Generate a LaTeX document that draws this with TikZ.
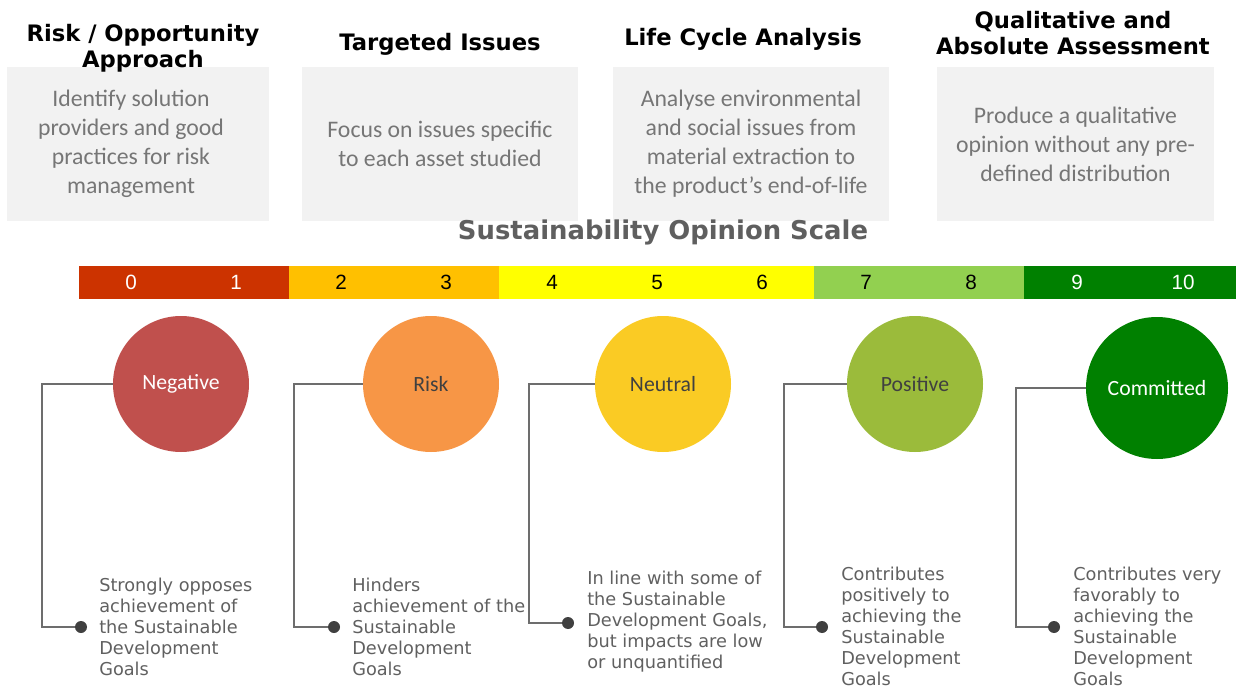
\documentclass[tikz,border=0pt]{standalone}
\usepackage{fontspec}
\usepackage{tikz}
\setmainfont{Carlito}
\newfontfamily\headfont{DejaVu Sans}
\newfontfamily\numfont{Liberation Sans}

\definecolor{boxgray}{HTML}{F2F2F2}
\definecolor{boxtxt}{HTML}{767676}
\definecolor{titlegray}{HTML}{5F5F5F}
\definecolor{scRed}{HTML}{CC3300}
\definecolor{scOrange}{HTML}{FFC000}
\definecolor{scYellow}{HTML}{FFFF00}
\definecolor{scLight}{HTML}{92D050}
\definecolor{scGreen}{HTML}{008000}
\definecolor{lvRed}{HTML}{C0504D}
\definecolor{lvOrange}{HTML}{F79646}
\definecolor{lvYellow}{HTML}{FACB24}
\definecolor{lvLight}{HTML}{9BBB3B}
\definecolor{lvGreen}{HTML}{008000}
\definecolor{lbldark}{HTML}{404040}
\definecolor{linkgray}{HTML}{6D6D6D}
\definecolor{expltxt}{HTML}{606060}

\begin{document}
\begin{tikzpicture}[x=0.75pt, y=-0.75pt,
  box/.style={rectangle, fill=boxgray, inner sep=0pt, align=center, text=boxtxt,
    font=\fontsize{17.8}{21.75}\selectfont},
  head/.style={align=center, inner sep=0pt, font=\headfont\bfseries\fontsize{17}{19.5}\selectfont},
  num/.style={inner sep=0pt, font=\numfont\fontsize{15.5}{17}\selectfont},
  lev/.style={circle, inner sep=0pt, minimum size=102pt, font=\fontsize{16.3}{18}\selectfont},
  dot/.style={circle, fill=lbldark, inner sep=0pt, minimum size=9pt},
  link/.style={draw=linkgray, line width=1.1pt},
  expl/.style={anchor=west, align=left, inner sep=0pt, text=expltxt,
    font=\headfont\fontsize{13.3}{15.75}\selectfont}]
\useasboundingbox (0,0) rectangle (1236,688);

% approach boxes
\node[box, minimum width=196.5pt, minimum height=115.5pt] (B1) at (138,144) {};
\node[box, minimum width=207pt, minimum height=115.5pt] (B2) at (440,144) {Focus on issues specific\\to each asset studied};
\node[box, minimum width=207pt, minimum height=115.5pt] (B3) at (751,144) {Analyse environmental\\and social issues from\\material extraction to\\the product’s end-of-life};
\node[box, minimum width=207.75pt, minimum height=115.5pt] (B4) at (1075.5,144) {Produce a qualitative\\opinion without any pre-\\defined distribution};
\node[box, fill=none] (T1) at (131,144) {Identify solution\\providers and good\\practices for risk\\management};

\node[head] (H1) at (143,48) {Risk / Opportunity\\Approach};
\node[head] (H2) at (440,44) {Targeted Issues};
\node[head] (H3) at (743,39) {Life Cycle Analysis};
\node[head] (H4) at (1073,33) {Qualitative and\\Absolute Assessment};

% scale
\node[inner sep=0pt, text=titlegray, font=\headfont\bfseries\fontsize{19.4}{22}\selectfont] (Title) at (663,232) {Sustainability Opinion Scale};
\fill[scRed] (79,266) rectangle (289,299);
\fill[scOrange] (289,266) rectangle (499,299);
\fill[scYellow] (499,266) rectangle (814,299);
\fill[scLight] (814,266) rectangle (1024,299);
\fill[scGreen] (1024,266) rectangle (1236,299);
\node[num, text=white] (N0) at (131,282) {0};
\node[num, text=white] (N1) at (236,282) {1};
\node[num] (N2) at (341,282) {2};
\node[num] (N3) at (446,282) {3};
\node[num] (N4) at (552,282) {4};
\node[num] (N5) at (657,282) {5};
\node[num] (N6) at (762,282) {6};
\node[num] (N7) at (866,282) {7};
\node[num] (N8) at (971,282) {8};
\node[num, text=white] (N9) at (1077,282) {9};
\node[num, text=white] (N10) at (1183,282) {10};

% levels
\node[lev, fill=lvRed, text=white] (L1) at (181,384) {Negative};
\node[lev, fill=lvOrange, text=lbldark] (L2) at (431,384) {Risk};
\node[lev, fill=lvYellow, text=lbldark] (L3) at (663,384) {Neutral};
\node[lev, fill=lvLight, text=lbldark] (L4) at (915,384) {Positive};
\node[lev, fill=lvGreen, text=white, minimum size=106.5pt] (L5) at (1157,388) {Committed};

\node[dot] (D1) at (81,627) {};
\node[dot] (D2) at (334,627) {};
\node[dot] (D3) at (568,623) {};
\node[dot] (D4) at (822,627) {};
\node[dot] (D5) at (1054,627) {};
\coordinate (K1) at (42,627);
\coordinate (K2) at (294,627);
\coordinate (K3) at (529,623);
\coordinate (K4) at (784,627);
\coordinate (K5) at (1016,627);
\draw[link] (L1.west) -| (K1) -- (D1);
\draw[link] (L2.west) -| (K2) -- (D2);
\draw[link] (L3.west) -| (K3) -- (D3);
\draw[link] (L4.west) -| (K4) -- (D4);
\draw[link] (L5.west) -| (K5) -- (D5);

\node[expl] (E1) at (99,627) {Strongly opposes\\achievement of\\the Sustainable\\Development\\Goals};
\node[expl] (E2) at (352,627) {Hinders\\achievement of the\\Sustainable\\Development\\Goals};
\node[expl] (E3) at (587,622) {In line with some of\\the Sustainable\\Development Goals,\\but impacts are low\\or unquantified};
\node[expl] (E4) at (841,626) {Contributes\\positively to\\achieving the\\Sustainable\\Development\\Goals};
\node[expl] (E5) at (1073,626) {Contributes very\\favorably to\\achieving the\\Sustainable\\Development\\Goals};
\end{tikzpicture}
\end{document}
